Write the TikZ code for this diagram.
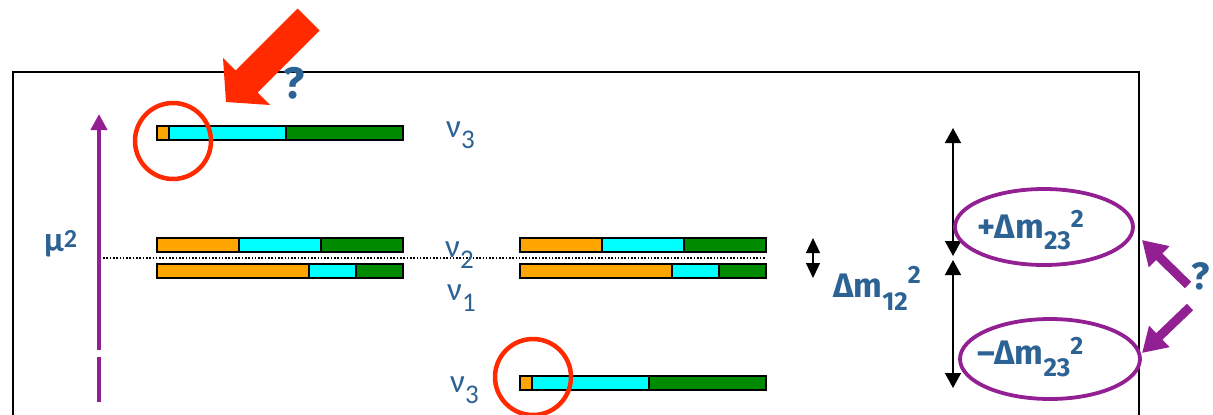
\documentclass[tikz,border=0pt]{standalone}
\usepackage{fontspec}
\setmainfont{Carlito}
\newfontfamily\labfont{Fira Sans}
\usetikzlibrary{arrows.meta}
\definecolor{txtblue}{RGB}{44,98,148}
\definecolor{mypurple}{RGB}{146,32,146}
\definecolor{myred}{RGB}{255,42,0}
\definecolor{cOr}{RGB}{255,165,0}
\definecolor{cCy}{RGB}{0,255,255}
\definecolor{cGr}{RGB}{0,138,0}
\tikzset{
  barline/.style={draw=black, line width=1.6pt},
  barbox/.style={draw=black, line width=1.6pt, rectangle, inner sep=0pt, outer sep=0pt, minimum height=14pt, anchor=north west},
  lab/.style={text=txtblue, inner sep=0pt, anchor=base west},
  ring/.style={draw=myred, line width=4.5pt},
  oval/.style={draw=mypurple, line width=3.8pt},
  purparrow/.style={mypurple, line width=9pt, -{Triangle[width=28pt,length=24pt]}},
  dbl/.style={black, line width=1.4pt, {Triangle[width=16pt,length=15pt]}-{Triangle[width=16pt,length=15pt]}}
}
\newcommand\nubar[6]{%
  \fill[cOr] (#2,#6) rectangle (#3,{#6+14});
  \fill[cCy] (#3,#6) rectangle (#4,{#6+14});
  \fill[cGr] (#4,#6) rectangle (#5,{#6+14});
  \draw[barline] (#3,#6) -- (#3,{#6+14}) (#4,#6) -- (#4,{#6+14});
  \node[barbox, minimum width={(#5-#2)*1pt}] (#1) at (#2,#6) {};
}
\newcommand\nulab[1]{\fontsize{33}{33}\selectfont ν\lower11pt\hbox{\fontsize{27}{27}\selectfont #1}}
\newcommand\dmlab[4]{\labfont\bfseries\fontsize{34}{34}\selectfont #1Δm\lower#3pt\hbox{\fontsize{26}{26}\selectfont #2}\raise#4pt\hbox{\fontsize{25}{25}\selectfont 2}}
\begin{document}
\begin{tikzpicture}[x=1pt,y=-1pt]
\useasboundingbox (0,0) rectangle (1213,415);
% frame
\draw[line width=1.5pt] (13,415) -- (13,72) -- (1139,72) -- (1139,415);
% axis
\coordinate (ax0) at (99,350);
\coordinate (ax1) at (99,114);
\coordinate (ax2) at (99,357);
\coordinate (ax3) at (99,402);
\draw[mypurple, line width=4pt, -{Triangle[width=16pt,length=16pt]}] (ax0) -- (ax1);
\draw[mypurple, line width=4pt] (ax2) -- (ax3);
\node[lab] (mu) at (44,251) {\bfseries\fontsize{35}{35}\selectfont μ\raise4pt\hbox{\fontsize{26}{26}\selectfont 2}};
% dotted line
\coordinate (d0) at (103,258);
\coordinate (d1) at (765,258);
\draw[line width=1.6pt, dash pattern=on 1.6pt off 1.7pt] (d0) -- (d1);
% bars
\nubar{b3t}{157}{169}{286}{403}{126}
\nubar{b2l}{157}{239}{321}{403}{238}
\nubar{b1l}{157}{309}{356}{403}{264}
\nubar{b2r}{520}{602}{684}{766}{238}
\nubar{b1r}{520}{672}{719}{766}{264}
\nubar{b3b}{520}{532}{649}{766}{376}
% nu labels
\node[lab] (nu3t) at (446,137) {\nulab{3}};
\node[lab] (nu2) at (445,257) {\nulab{2}};
\node[lab] (nu1) at (447,300) {\nulab{1}};
\node[lab] (nu3b) at (450,392) {\nulab{3}};
% red circles
\draw[ring] (173,141) circle (38pt);
\draw[ring] (533,377) circle (38pt);
% red arrow
\fill[myred] (226,102) -- (223,58) -- (235.5,70.5) -- (297.5,8.5) -- (319.5,30.5) -- (257.5,92.5) -- (270,105) -- cycle;
\node[text=txtblue, inner sep=0pt, font=\labfont\bfseries\fontsize{44}{44}\selectfont] (q1) at (294,83) {?};
% small double arrow
\coordinate (s0) at (813,238);
\coordinate (s1) at (813,278);
\draw[black, line width=1.2pt, {Triangle[width=14pt,length=15pt]}-{Triangle[width=14pt,length=15pt]}] (s0) -- (s1);
\node[lab] (dm12) at (833,297) {\dmlab{}{12}{13}{14}};
% big double arrows
\coordinate (u0) at (953,128);
\coordinate (u1) at (953,256);
\coordinate (l0) at (953,260);
\coordinate (l1) at (953,388);
\draw[dbl] (u0) -- (u1);
\draw[dbl] (l0) -- (l1);
% ellipses
\draw[oval] (1044,227) ellipse (89pt and 38pt);
\draw[oval] (1050,359) ellipse (90pt and 40pt);
\node[lab] (dmp) at (977,238) {\dmlab{+}{23}{11}{11}};
\node[lab] (dmm) at (977,364) {\dmlab{–}{23}{12}{10}};
% question and purple arrows
\node[text=txtblue, inner sep=0pt, font=\labfont\bfseries\fontsize{38}{38}\selectfont] (q2) at (1201,276) {?};
\coordinate (pa0) at (1188,285);
\coordinate (pa1) at (1142,240);
\coordinate (pb0) at (1190,307);
\coordinate (pb1) at (1142,353);
\draw[purparrow] (pa0) -- (pa1);
\draw[purparrow] (pb0) -- (pb1);
\end{tikzpicture}
\end{document}
